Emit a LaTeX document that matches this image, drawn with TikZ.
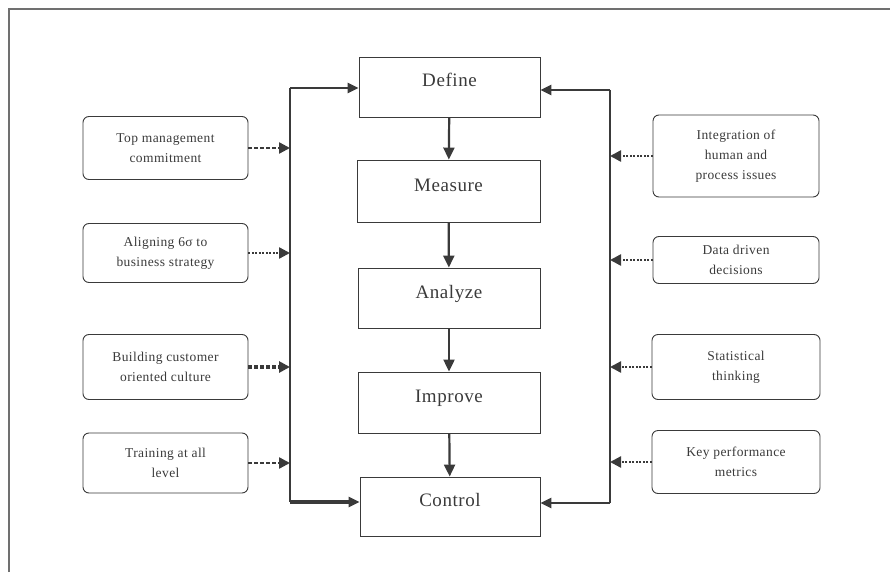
\documentclass[tikz,border=0pt]{standalone}
\usepackage{fontspec}
\setmainfont{Liberation Serif}
\usetikzlibrary{arrows.meta}
\definecolor{ink}{HTML}{3A3A3A}
\definecolor{frame}{HTML}{707070}
\begin{document}
\begin{tikzpicture}[x=1pt,y=-1pt,
  stage/.style={draw=ink,line width=0.9pt,text=ink,minimum width=182pt,minimum height=60pt,font=\fontsize{19}{22}\selectfont\addfontfeatures{LetterSpace=3},inner sep=0pt,text height=10pt,text depth=10pt},
  factor/.style={draw=ink,line width=0.9pt,rounded corners=6pt,text=ink,minimum width=165pt,align=center,font=\fontsize{13.5}{20}\selectfont\addfontfeatures{LetterSpace=3},inner sep=0pt},
  flow/.style={draw=ink,line width=2.2pt,-{Triangle[length=12pt,width=11pt]}},
  spine/.style={draw=ink,line width=1.2pt},
  feedin/.style={draw=ink,line width=2.4pt,-{Triangle[length=11pt,width=10pt]}},
  lfac/.style={draw=ink,line width=2.4pt,dash pattern=on 4pt off 2pt,-{Triangle[length=11pt,width=11pt]}},
  rfac/.style={draw=ink,line width=2.4pt,dash pattern=on 2pt off 1.5pt,-{Triangle[length=11pt,width=11pt]}}
]
\useasboundingbox (0,0) rectangle (890,572);
\draw[frame,line width=1.3pt] (9,572) -- (9,9) -- (890,9);

% stages
\node[stage,minimum width=181pt] (def) at (449.5,87) {Define};
\node[stage,minimum width=183pt,minimum height=62pt] (mea) at (448.5,191) {Measure};
\node[stage] (ana) at (449,298) {Analyze};
\node[stage,minimum height=61pt] (imp) at (449,402.5) {Improve};
\node[stage,minimum width=180pt,minimum height=59pt] (con) at (450,506.5) {Control};

\draw[flow] (def) -- (mea);
\draw[flow] (mea) -- (ana);
\draw[flow] (ana) -- (imp);
\draw[flow] (imp) -- (con);

% left spine
\coordinate (lt) at (290,88);
\coordinate (lb) at (290,502);
\draw[spine] (lt) -- (lb);
\draw[feedin] (lt) -- (lt -| def.west);
\draw[feedin,line width=3.5pt] (lb) -- (lb -| con.west);

% right spine
\coordinate (rt) at (610,90);
\coordinate (rb) at (610,503);
\draw[spine] (rt) -- (rb);
\draw[feedin] (rt) -- (rt -| def.east);
\draw[feedin] (rb) -- (rb -| con.east);

% left factors
\node[factor,minimum height=63pt] (tm) at (165.5,148) {Top management\\commitment};
\node[factor,minimum height=59pt] (al) at (165.5,253) {Aligning 6σ to\\business strategy};
\node[factor,minimum height=65pt] (bc) at (165.5,367) {Building customer\\oriented culture};
\node[factor,minimum height=60pt] (tr) at (165.5,463) {Training at all\\level};

\draw[lfac] (tm.east) -- (tm.east -| lt);
\draw[lfac,dash pattern=on 2pt off 1.5pt] (al.east) -- (al.east -| lt);
\draw[lfac,line width=3.5pt] (bc.east) -- (bc.east -| lt);
\draw[lfac] (tr.east) -- (tr.east -| lt);

% right factors
\node[factor,minimum width=166pt,minimum height=82pt] (ih) at (736,156) {Integration of\\human and\\process issues};
\node[factor,minimum width=166pt,minimum height=47pt] (dd) at (736,260) {Data driven\\decisions};
\node[factor,minimum width=168pt,minimum height=65pt] (st) at (736,367) {Statistical\\thinking};
\node[factor,minimum width=168pt,minimum height=63pt] (kp) at (736,462) {Key performance\\metrics};

\draw[rfac] (ih.west) -- (ih.west -| rt);
\draw[rfac] (dd.west) -- (dd.west -| rt);
\draw[rfac] (st.west) -- (st.west -| rt);
\draw[rfac] (kp.west) -- (kp.west -| rt);
\end{tikzpicture}
\end{document}
